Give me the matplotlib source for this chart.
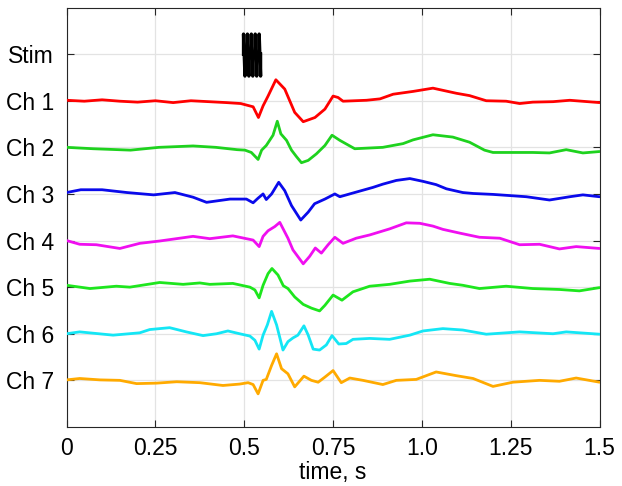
import matplotlib
matplotlib.use("Agg")
import matplotlib.pyplot as plt

plt.rcParams['font.family'] = ['Liberation Sans', 'DejaVu Sans']

# -------- data (offsets in channel units, positive = up) --------
row_labels = ["Stim", "Ch 1", "Ch 2", "Ch 3", "Ch 4", "Ch 5", "Ch 6", "Ch 7"]
x_ticks = [0, 0.25, 0.5, 0.75, 1.0, 1.25, 1.5]
x_tick_labels = ["0", "0.25", "0.5", "0.75", "1.0", "1.25", "1.5"]

stim_onsets = [0.498, 0.509, 0.520, 0.531, 0.542]
stim_up = 0.43
stim_down = -0.47

ch1_t = [0, 0.05, 0.1, 0.15, 0.2, 0.25, 0.3, 0.35, 0.4, 0.45, 0.49, 0.525, 0.54,
         0.553, 0.567, 0.589, 0.614, 0.642, 0.666, 0.699, 0.727, 0.75, 0.764, 0.778,
         0.844, 0.882, 0.919, 0.975, 1.031, 1.097, 1.134, 1.181, 1.237, 1.275, 1.312,
         1.369, 1.416, 1.5]
ch1_v = [0.01, -0.01, 0.02, -0.01, -0.03, 0.0, -0.04, 0.0, -0.02, -0.04, -0.06, -0.13, -0.36,
         -0.11, 0.1, 0.45, 0.25, -0.25, -0.45, -0.36, -0.18, 0.1, 0.07, -0.01,
         0.01, 0.04, 0.14, 0.2, 0.27, 0.16, 0.11, 0.0, -0.01, -0.06, -0.03,
         -0.02, 0.01, -0.04]

ch2_t = [0, 0.075, 0.18, 0.26, 0.356, 0.42, 0.48, 0.502, 0.52, 0.539, 0.549, 0.562,
         0.581, 0.593, 0.603, 0.619, 0.633, 0.647, 0.661, 0.68, 0.703, 0.727, 0.747,
         0.769, 0.811, 0.89, 0.947, 0.975, 1.031, 1.087, 1.134, 1.176, 1.2, 1.312,
         1.359, 1.406, 1.453, 1.5]
ch2_v = [0.0, -0.03, -0.06, 0.0, 0.03, 0.0, -0.05, -0.06, -0.11, -0.26, -0.06, 0.04,
         0.26, 0.56, 0.29, 0.15, -0.06, -0.2, -0.33, -0.28, -0.14, 0.04, 0.26,
         0.15, -0.03, 0.0, 0.08, 0.16, 0.27, 0.22, 0.11, -0.06, -0.11, -0.11,
         -0.12, -0.05, -0.12, -0.09]

ch3_t = [0, 0.04, 0.1, 0.17, 0.245, 0.305, 0.356, 0.394, 0.46, 0.506, 0.525, 0.539,
         0.553, 0.562, 0.577, 0.597, 0.614, 0.633, 0.659, 0.68, 0.698, 0.727, 0.755,
         0.769, 0.806, 0.862, 0.89, 0.928, 0.966, 1.003, 1.04, 1.069, 1.115, 1.144,
         1.2, 1.294, 1.359, 1.416, 1.453, 1.5]
ch3_v = [0.03, 0.09, 0.09, 0.03, -0.02, 0.03, -0.07, -0.18, -0.11, -0.11, -0.19, -0.09,
         0.0, -0.12, 0.0, 0.25, 0.07, -0.25, -0.56, -0.39, -0.21, -0.11, 0.0,
         -0.06, 0.02, 0.14, 0.21, 0.29, 0.33, 0.27, 0.2, 0.11, 0.03, 0.01,
         -0.01, -0.06, -0.13, -0.06, -0.02, -0.06]

ch4_t = [0, 0.037, 0.084, 0.15, 0.206, 0.262, 0.356, 0.403, 0.468, 0.525, 0.542, 0.553,
         0.567, 0.586, 0.6, 0.623, 0.637, 0.666, 0.684, 0.7, 0.717, 0.736, 0.755,
         0.778, 0.815, 0.853, 0.909, 0.956, 0.994, 1.031, 1.059, 1.106, 1.162, 1.219,
         1.275, 1.331, 1.387, 1.434, 1.5]
ch4_v = [0.0, -0.08, -0.09, -0.17, -0.06, -0.01, 0.09, 0.04, 0.1, 0.01, -0.13, 0.09,
         0.21, 0.3, 0.39, 0.05, -0.2, -0.5, -0.34, -0.16, -0.27, -0.09, 0.07,
         -0.06, 0.05, 0.12, 0.25, 0.38, 0.37, 0.31, 0.24, 0.16, 0.07, 0.05,
         -0.09, -0.08, -0.18, -0.13, -0.17]

ch5_t = [0, 0.066, 0.14, 0.178, 0.262, 0.328, 0.375, 0.403, 0.468, 0.516, 0.53, 0.542,
         0.553, 0.567, 0.578, 0.595, 0.61, 0.623, 0.642, 0.666, 0.689, 0.712, 0.727,
         0.75, 0.775, 0.806, 0.853, 0.909, 0.966, 1.022, 1.078, 1.115, 1.162, 1.237,
         1.312, 1.387, 1.443, 1.5]
ch5_v = [0.04, -0.03, 0.02, 0.0, 0.1, 0.06, 0.09, 0.06, 0.08, 0.0, -0.06, -0.23,
         0.04, 0.29, 0.4, 0.26, 0.03, -0.03, -0.21, -0.37, -0.45, -0.51, -0.39,
         -0.17, -0.28, -0.1, 0.02, 0.06, 0.13, 0.17, 0.08, 0.04, -0.03, 0.02,
         -0.03, -0.05, -0.08, -0.01]

ch6_t = [0, 0.037, 0.131, 0.206, 0.234, 0.29, 0.337, 0.384, 0.422, 0.454, 0.487, 0.516,
         0.53, 0.542, 0.553, 0.565, 0.577, 0.591, 0.609, 0.623, 0.637, 0.651, 0.668,
         0.68, 0.694, 0.712, 0.731, 0.747, 0.766, 0.787, 0.806, 0.853, 0.909, 0.966,
         1.003, 1.059, 1.115, 1.181, 1.237, 1.275, 1.369, 1.406, 1.5]
ch6_v = [0.0, 0.04, -0.03, 0.02, 0.09, 0.13, 0.04, -0.04, 0.0, 0.06, 0.0, -0.05,
         -0.14, -0.33, -0.03, 0.19, 0.48, 0.19, -0.35, -0.17, -0.09, -0.03, 0.17,
         -0.03, -0.33, -0.35, -0.24, -0.04, -0.22, -0.21, -0.12, -0.1, -0.12, -0.03,
         0.06, 0.11, 0.08, -0.01, 0.02, 0.04, 0.0, 0.04, -0.01]

ch7_t = [0, 0.037, 0.094, 0.15, 0.197, 0.253, 0.31, 0.375, 0.44, 0.487, 0.511, 0.525,
         0.539, 0.553, 0.562, 0.577, 0.591, 0.605, 0.623, 0.642, 0.668, 0.689, 0.708,
         0.727, 0.75, 0.773, 0.797, 0.834, 0.89, 0.928, 0.984, 1.04, 1.097, 1.144,
         1.2, 1.256, 1.331, 1.387, 1.434, 1.5]
ch7_v = [0.01, 0.04, 0.01, 0.0, -0.07, -0.06, -0.03, -0.05, -0.11, -0.08, -0.05, -0.09,
         -0.29, 0.0, 0.02, 0.32, 0.57, 0.25, 0.14, -0.14, 0.09, 0.0, -0.04,
         0.07, 0.21, -0.05, 0.05, 0.0, -0.09, 0.0, 0.02, 0.18, 0.1, 0.04,
         -0.13, -0.04, 0.0, -0.02, 0.05, -0.04]

channels = [(ch1_t, ch1_v), (ch2_t, ch2_v), (ch3_t, ch3_v), (ch4_t, ch4_v),
            (ch5_t, ch5_v), (ch6_t, ch6_v), (ch7_t, ch7_v)]
colors = ['#ff0000', '#1ed21e', '#0a0aeb', '#f00ff0', '#1ee61e', '#14e6f5', '#ffaa00']

# -------- figure --------
fig = plt.figure(figsize=(6.22, 4.86), dpi=100)
ax = fig.add_axes([0.107, 0.1215, 0.857, 0.863])

# stimulus pulse train (biphasic)
st, sv = [], []
for t0 in stim_onsets:
    st += [t0, t0, t0 + 0.004, t0 + 0.004]
    sv += [0, stim_up, stim_down, 0]
ax.plot(st, [-v for v in sv], color='black', lw=2.4, zorder=3)

for i, (t, v) in enumerate(channels):
    ax.plot(t, [i + 1 - y for y in v], color=colors[i], lw=2.0, zorder=3,
            solid_joinstyle='round', solid_capstyle='round')

ax.set_xlim(0, 1.5)
ax.set_ylim(8, -1)
ax.set_xticks(x_ticks)
ax.set_xticklabels(x_tick_labels)
ax.set_yticks(range(len(row_labels)))
ax.set_yticklabels(row_labels)
ax.set_xlabel("time, s", fontsize=16.5, labelpad=1)

ax.grid(True, color='#e3e3e3', lw=0.9, zorder=0)
ax.set_axisbelow(True)
ax.tick_params(direction='in', length=5, width=0.8, labelsize=16.5,
               top=True, right=True, color='#262626')
ax.tick_params(axis='y', pad=9)
ax.tick_params(axis='x', pad=7)
for s in ax.spines.values():
    s.set_color('#262626')
    s.set_linewidth(0.8)

fig.savefig("out.png", dpi=100)
